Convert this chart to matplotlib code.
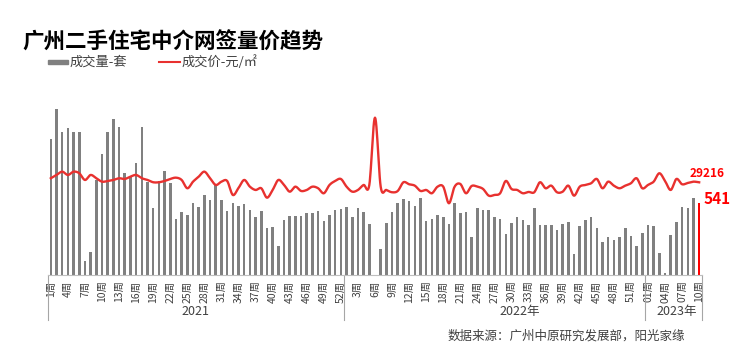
import numpy as np
import matplotlib
matplotlib.use('Agg')
import matplotlib.pyplot as plt
from matplotlib.patches import Rectangle
from matplotlib.lines import Line2D

plt.rcParams['font.family'] = ['Noto Sans CJK SC', 'DejaVu Sans']

# 成交量-套 (weekly)
vol_2021 = [1027, 1253, 1077, 1112, 1082, 1077, 108, 176, 717, 913, 1077, 1175, 1115,
            773, 737, 843, 1115, 705, 508, 712, 785, 692, 423, 476, 453, 541, 516, 602,
            566, 680, 566, 486, 541, 521, 534, 491, 440, 486, 357, 362, 221, 415, 445,
            445, 445, 471, 471, 483, 410, 453, 491, 496]
vol_2022 = [511, 440, 503, 473, 385, 0, 194, 390, 478, 541, 574, 559, 521, 584, 410,
            423, 453, 440, 385, 541, 466, 473, 289, 503, 491, 491, 440, 423, 307, 390,
            440, 415, 375, 503, 380, 380, 380, 340, 385, 403, 159, 370, 415, 440, 352,
            247, 289, 264, 289, 352, 294, 221, 315]
vol_2023 = [380, 372, 164, 18, 300, 403, 513, 508, 581, 541]

# 成交价-元/㎡
price_2021 = [29620, 29950, 30280, 29950, 30280, 30120, 29450, 29950, 29620, 29280,
              29350, 29450, 29620, 29550, 29780, 29950, 29620, 29450, 29220, 29220,
              29350, 29550, 29680, 29450, 28620, 29280, 29780, 30280, 29620, 28950,
              29280, 29350, 27950, 28650, 29450, 28780, 28450, 28620, 27680, 28450,
              29450, 28950, 28280, 28780, 28350, 28450, 28780, 28620, 28120, 28950,
              29350, 29550]
price_2022 = [28780, 28280, 28450, 28950, 28950, 35680, 28780, 28450, 28220, 28350,
              29220, 29020, 28880, 28350, 28450, 28120, 28780, 28780, 27120, 28780,
              29050, 28120, 28850, 28780, 28550, 27880, 27950, 28120, 29350, 28550,
              28450, 28120, 28250, 28220, 29220, 28620, 28880, 28220, 28280, 28880,
              27880, 28780, 28950, 29120, 29550, 28620, 29280, 28880, 28620, 28880,
              29120, 29620, 28620]
price_2023 = [28950, 29280, 30120, 29350, 28450, 29550, 29020, 29150, 29280, 29216]

years = ['2021', '2022年', '2023年']
weeks_2021 = ['%d周' % w for w in range(1, len(vol_2021) + 1)]
weeks_2022 = ['%d周' % w for w in range(1, len(vol_2022) + 1)]
weeks_2023 = ['%02d周' % w for w in range(1, len(vol_2023) + 1)]

vol = vol_2021 + vol_2022 + vol_2023
price = price_2021 + price_2022 + price_2023
labels = weeks_2021 + weeks_2022 + weeks_2023
x = np.arange(len(vol))


def smooth(xs, ys, n=12):
    # catmull-rom, like excel smoothed line
    p = np.column_stack([xs, ys]).astype(float)
    p = np.vstack([p[0], p, p[-1]])
    out = []
    t = np.linspace(0, 1, n, endpoint=False)[:, None]
    for i in range(1, len(p) - 2):
        p0, p1, p2, p3 = p[i - 1], p[i], p[i + 1], p[i + 2]
        seg = 0.5 * ((2 * p1) + (-p0 + p2) * t + (2 * p0 - 5 * p1 + 4 * p2 - p3) * t ** 2
                     + (-p0 + 3 * p1 - 3 * p2 + p3) * t ** 3)
        out.append(seg)
    out.append(p[-2][None, :])
    out = np.vstack(out)
    return out[:, 0], out[:, 1]


fig = plt.figure(figsize=(7.4, 3.64), dpi=100)
ax = fig.add_axes([48 / 740, 89 / 364, 654 / 740, 185 / 364])

colors = ['#808080'] * (len(vol) - 1) + ['#FF0000']
ax.bar(x, vol, width=0.45, color=colors, zorder=2)
ax.set_xlim(-0.5, len(vol) - 0.5)
ax.set_ylim(0, 1396)

ax2 = ax.twinx()
sx, sy = smooth(x, price)
ax2.plot(sx, sy, color='#E8312F', lw=1.7, zorder=3)
ax2.set_ylim(19946, 38446)

for a in (ax, ax2):
    for s in a.spines.values():
        s.set_visible(False)
    a.set_yticks([])
ax.spines['bottom'].set_visible(True)
ax.spines['bottom'].set_color('#BFBFBF')

ax.set_xticks(x[::3])
ax.set_xticklabels(labels[::3], rotation=90, fontsize=7.5, color='#404040')
ax.tick_params(axis='x', length=0, pad=4)

# group separators and year labels
n1, n2 = len(vol_2021), len(vol_2022)
bounds = [-0.5, n1 - 0.5, n1 + n2 - 0.5, len(vol) - 0.5]
trans = ax.get_xaxis_transform()
for b in bounds:
    ax.add_line(Line2D([b, b], [0, -0.245], transform=trans, color='#A6A6A6',
                       lw=0.8, clip_on=False))
year_x = [(bounds[0] + bounds[1]) / 2, (bounds[1] + bounds[2]) / 2 + 4.5,
          (bounds[2] + bounds[3]) / 2 + 0.5]
for yx, yl in zip(year_x, years):
    ax.text(yx, -0.195, yl, transform=trans, ha='center', va='center',
            fontsize=9, color='#404040')

# end value labels
ax2.text(len(vol) - 2.6, price[-1] + 850, '%d' % price[-1], color='#FF0000',
         fontsize=8.5, fontweight='bold', ha='left', va='center')
ax.text(len(vol) - 0.3, vol[-1] + 30, '%d' % vol[-1], color='#FF0000',
        fontsize=11, fontweight='bold', ha='left', va='center', clip_on=False)

# title and legend
fig.text(22 / 740, 1 - 42 / 364, '广州二手住宅中介网签量价趋势', fontsize=15.5,
         fontweight='bold', ha='left', va='center', color='black')
fig.patches.append(Rectangle((48 / 740, 1 - 64 / 364), 20 / 740, 4 / 364,
                             transform=fig.transFigure, color='#808080'))
fig.text(70 / 740, 1 - 62 / 364, '成交量-套', fontsize=9.5, ha='left', va='center',
         color='#404040')
fig.lines.append(Line2D([159 / 740, 180 / 740], [1 - 62 / 364] * 2,
                        transform=fig.transFigure, color='#E8312F', lw=1.5))
fig.text(182 / 740, 1 - 62 / 364, '成交价-元/㎡', fontsize=9.5, ha='left', va='center',
         color='#404040')

fig.text(448 / 740, 1 - 336 / 364, '数据来源：广州中原研究发展部，阳光家缘', fontsize=9,
         ha='left', va='center', color='#404040')

fig.savefig('out.png', dpi=100)
